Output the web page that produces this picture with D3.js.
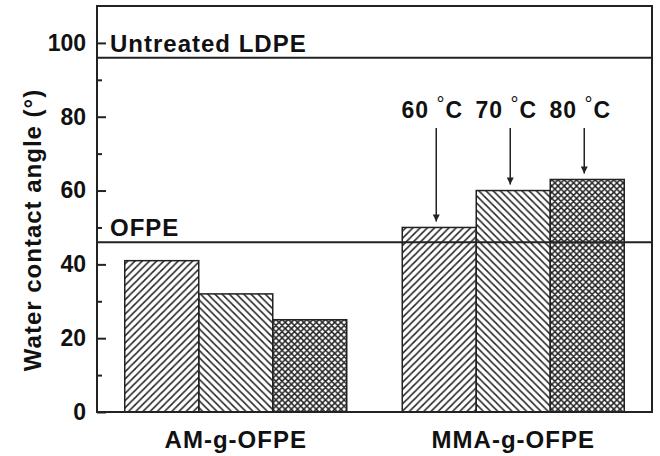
<!DOCTYPE html>
<html>
<head>
<meta charset="utf-8">
<script src="https://cdn.jsdelivr.net/npm/d3@7"></script>
<style>
  body { margin: 0; background: #fff; }
  svg { display: block; }
  text { font-family: "Liberation Sans", Arial, sans-serif; font-weight: bold; fill: #111; }
</style>
</head>
<body>
<div id="chart"></div>
<script>
// ---- data
var groups = ["AM-g-OFPE", "MMA-g-OFPE"];
var temps = ["60", "70", "80"];
var amValues = [41, 32, 25];
var mmaValues = [50, 60, 63];
var refLabels = ["Untreated LDPE", "OFPE"];
var refValues = [96, 46];
var yTicks = [0, 20, 40, 60, 80, 100];
var yMinor = [10, 30, 50, 70, 90];

var width = 660, height = 456;
var margin = { top: 6, right: 8, bottom: 44, left: 97 };
var ink = "#222";

var svg = d3.select("#chart").append("svg")
  .attr("width", width)
  .attr("height", height);

// hatch patterns
var defs = svg.append("defs");
function hatch(id, d, size, sw) {
  defs.append("pattern")
    .attr("id", id)
    .attr("patternUnits", "userSpaceOnUse")
    .attr("width", size).attr("height", size)
    .append("path")
    .attr("d", d)
    .attr("stroke", ink)
    .attr("stroke-width", sw)
    .attr("fill", "none");
}
var s = 7.2;
hatch("fwd", "M0," + s + "L" + s + ",0M-2,2L2,-2M" + (s - 2) + "," + (s + 2) + "L" + (s + 2) + "," + (s - 2), s, 1.5);
hatch("back", "M0,0L" + s + "," + s + "M-2," + (s - 2) + "L2," + (s + 2) + "M" + (s - 2) + ",-2L" + (s + 2) + ",2", s, 1.5);
var c = 6.2;
hatch("cross", "M0," + c + "L" + c + ",0M-2,2L2,-2M" + (c - 2) + "," + (c + 2) + "L" + (c + 2) + "," + (c - 2) +
  "M0,0L" + c + "," + c + "M-2," + (c - 2) + "L2," + (c + 2) + "M" + (c - 2) + ",-2L" + (c + 2) + ",2", c, 1.5);
var fills = ["url(#fwd)", "url(#back)", "url(#cross)"];

var x0 = d3.scaleBand()
  .domain(groups)
  .range([margin.left, width - margin.right])
  .paddingInner(0.2)
  .paddingOuter(0.1);

var x1 = d3.scaleBand()
  .domain(temps)
  .range([0, x0.bandwidth()]);

var y = d3.scaleLinear()
  .domain([0, 110])
  .range([height - margin.bottom, margin.top]);

var series = [amValues, mmaValues];
var bars = [];
groups.forEach(function (g, gi) {
  temps.forEach(function (t, ti) {
    bars.push({ group: g, temp: t, value: series[gi][ti], fill: fills[ti] });
  });
});

svg.append("g")
  .selectAll("rect")
  .data(bars)
  .join("rect")
  .attr("x", function (d) { return x0(d.group) + x1(d.temp); })
  .attr("y", function (d) { return y(d.value); })
  .attr("width", x1.bandwidth())
  .attr("height", function (d) { return y(0) - y(d.value); })
  .attr("fill", function (d) { return d.fill; })
  .attr("stroke", ink)
  .attr("stroke-width", 1.5);

// reference lines
var refs = refLabels.map(function (l, i) { return { label: l, value: refValues[i] }; });
svg.append("g")
  .selectAll("line")
  .data(refs)
  .join("line")
  .attr("x1", margin.left).attr("x2", width - margin.right)
  .attr("y1", function (d) { return y(d.value); })
  .attr("y2", function (d) { return y(d.value); })
  .attr("stroke", ink)
  .attr("stroke-width", 2);

svg.append("g")
  .selectAll("text")
  .data(refs)
  .join("text")
  .attr("x", margin.left + 13)
  .attr("y", function (d) { return y(d.value) - 6; })
  .attr("font-size", 24)
  .attr("letter-spacing", 1)
  .text(function (d) { return d.label; });

// frame
svg.append("rect")
  .attr("x", margin.left).attr("y", margin.top)
  .attr("width", width - margin.left - margin.right)
  .attr("height", height - margin.top - margin.bottom)
  .attr("fill", "none")
  .attr("stroke", ink)
  .attr("stroke-width", 2);

// y axis, ticks inward
var yAxis = svg.append("g")
  .attr("transform", "translate(" + margin.left + ",0)")
  .call(d3.axisLeft(y).tickValues(yTicks).tickSizeInner(-9).tickSizeOuter(0).tickPadding(11));
yAxis.select(".domain").remove();
yAxis.selectAll("line").attr("stroke", ink).attr("stroke-width", 2);
yAxis.selectAll("text").attr("font-size", 23).attr("fill", "#111").attr("font-family", null);

var yMinorAxis = svg.append("g")
  .attr("transform", "translate(" + margin.left + ",0)")
  .call(d3.axisLeft(y).tickValues(yMinor).tickSizeInner(-5).tickSizeOuter(0).tickFormat(""));
yMinorAxis.select(".domain").remove();
yMinorAxis.selectAll("line").attr("stroke", ink).attr("stroke-width", 2);

// x axis labels
var xAxis = svg.append("g")
  .attr("transform", "translate(0," + (height - margin.bottom) + ")")
  .call(d3.axisBottom(x0).tickSize(0).tickPadding(19));
xAxis.select(".domain").remove();
xAxis.selectAll("text").attr("font-size", 24).attr("letter-spacing", 1).attr("fill", "#111").attr("font-family", null);

// y title
svg.append("text")
  .attr("transform", "translate(41,230) rotate(-90)")
  .attr("text-anchor", "middle")
  .attr("font-size", 24)
  .attr("letter-spacing", 1)
  .text("Water contact angle (°)");

// temperature arrows on the MMA bars
var labelBase = 118, arrowTop = 128;
defs.append("marker")
  .attr("id", "head")
  .attr("viewBox", "0 0 10 10")
  .attr("refX", 10).attr("refY", 5)
  .attr("markerWidth", 10).attr("markerHeight", 7)
  .attr("markerUnits", "userSpaceOnUse")
  .attr("orient", "auto")
  .append("path")
  .attr("d", "M0,0L10,5L0,10z")
  .attr("fill", ink);

var notes = temps.map(function (t, i) { return { temp: t, value: mmaValues[i] }; });
function ax(d) { return x0(groups[1]) + x1(d.temp) + x1.bandwidth() / 2 - 3; }

svg.append("g")
  .selectAll("line")
  .data(notes)
  .join("line")
  .attr("x1", ax).attr("x2", ax)
  .attr("y1", arrowTop)
  .attr("y2", function (d) { return y(d.value) - 6; })
  .attr("stroke", ink)
  .attr("stroke-width", 1.5)
  .attr("marker-end", "url(#head)");

var lab = svg.append("g")
  .selectAll("text")
  .data(notes)
  .join("text")
  .attr("x", function (d) { return ax(d) - 4; })
  .attr("y", labelBase)
  .attr("text-anchor", "middle")
  .attr("font-size", 23)
  .attr("letter-spacing", 1);
lab.append("tspan").text(function (d) { return d.temp + " "; });
lab.append("tspan").attr("font-size", 20).attr("font-weight", "normal").attr("dy", -7).text("°");
lab.append("tspan").attr("dy", 7).text("C");
</script>
</body>
</html>
